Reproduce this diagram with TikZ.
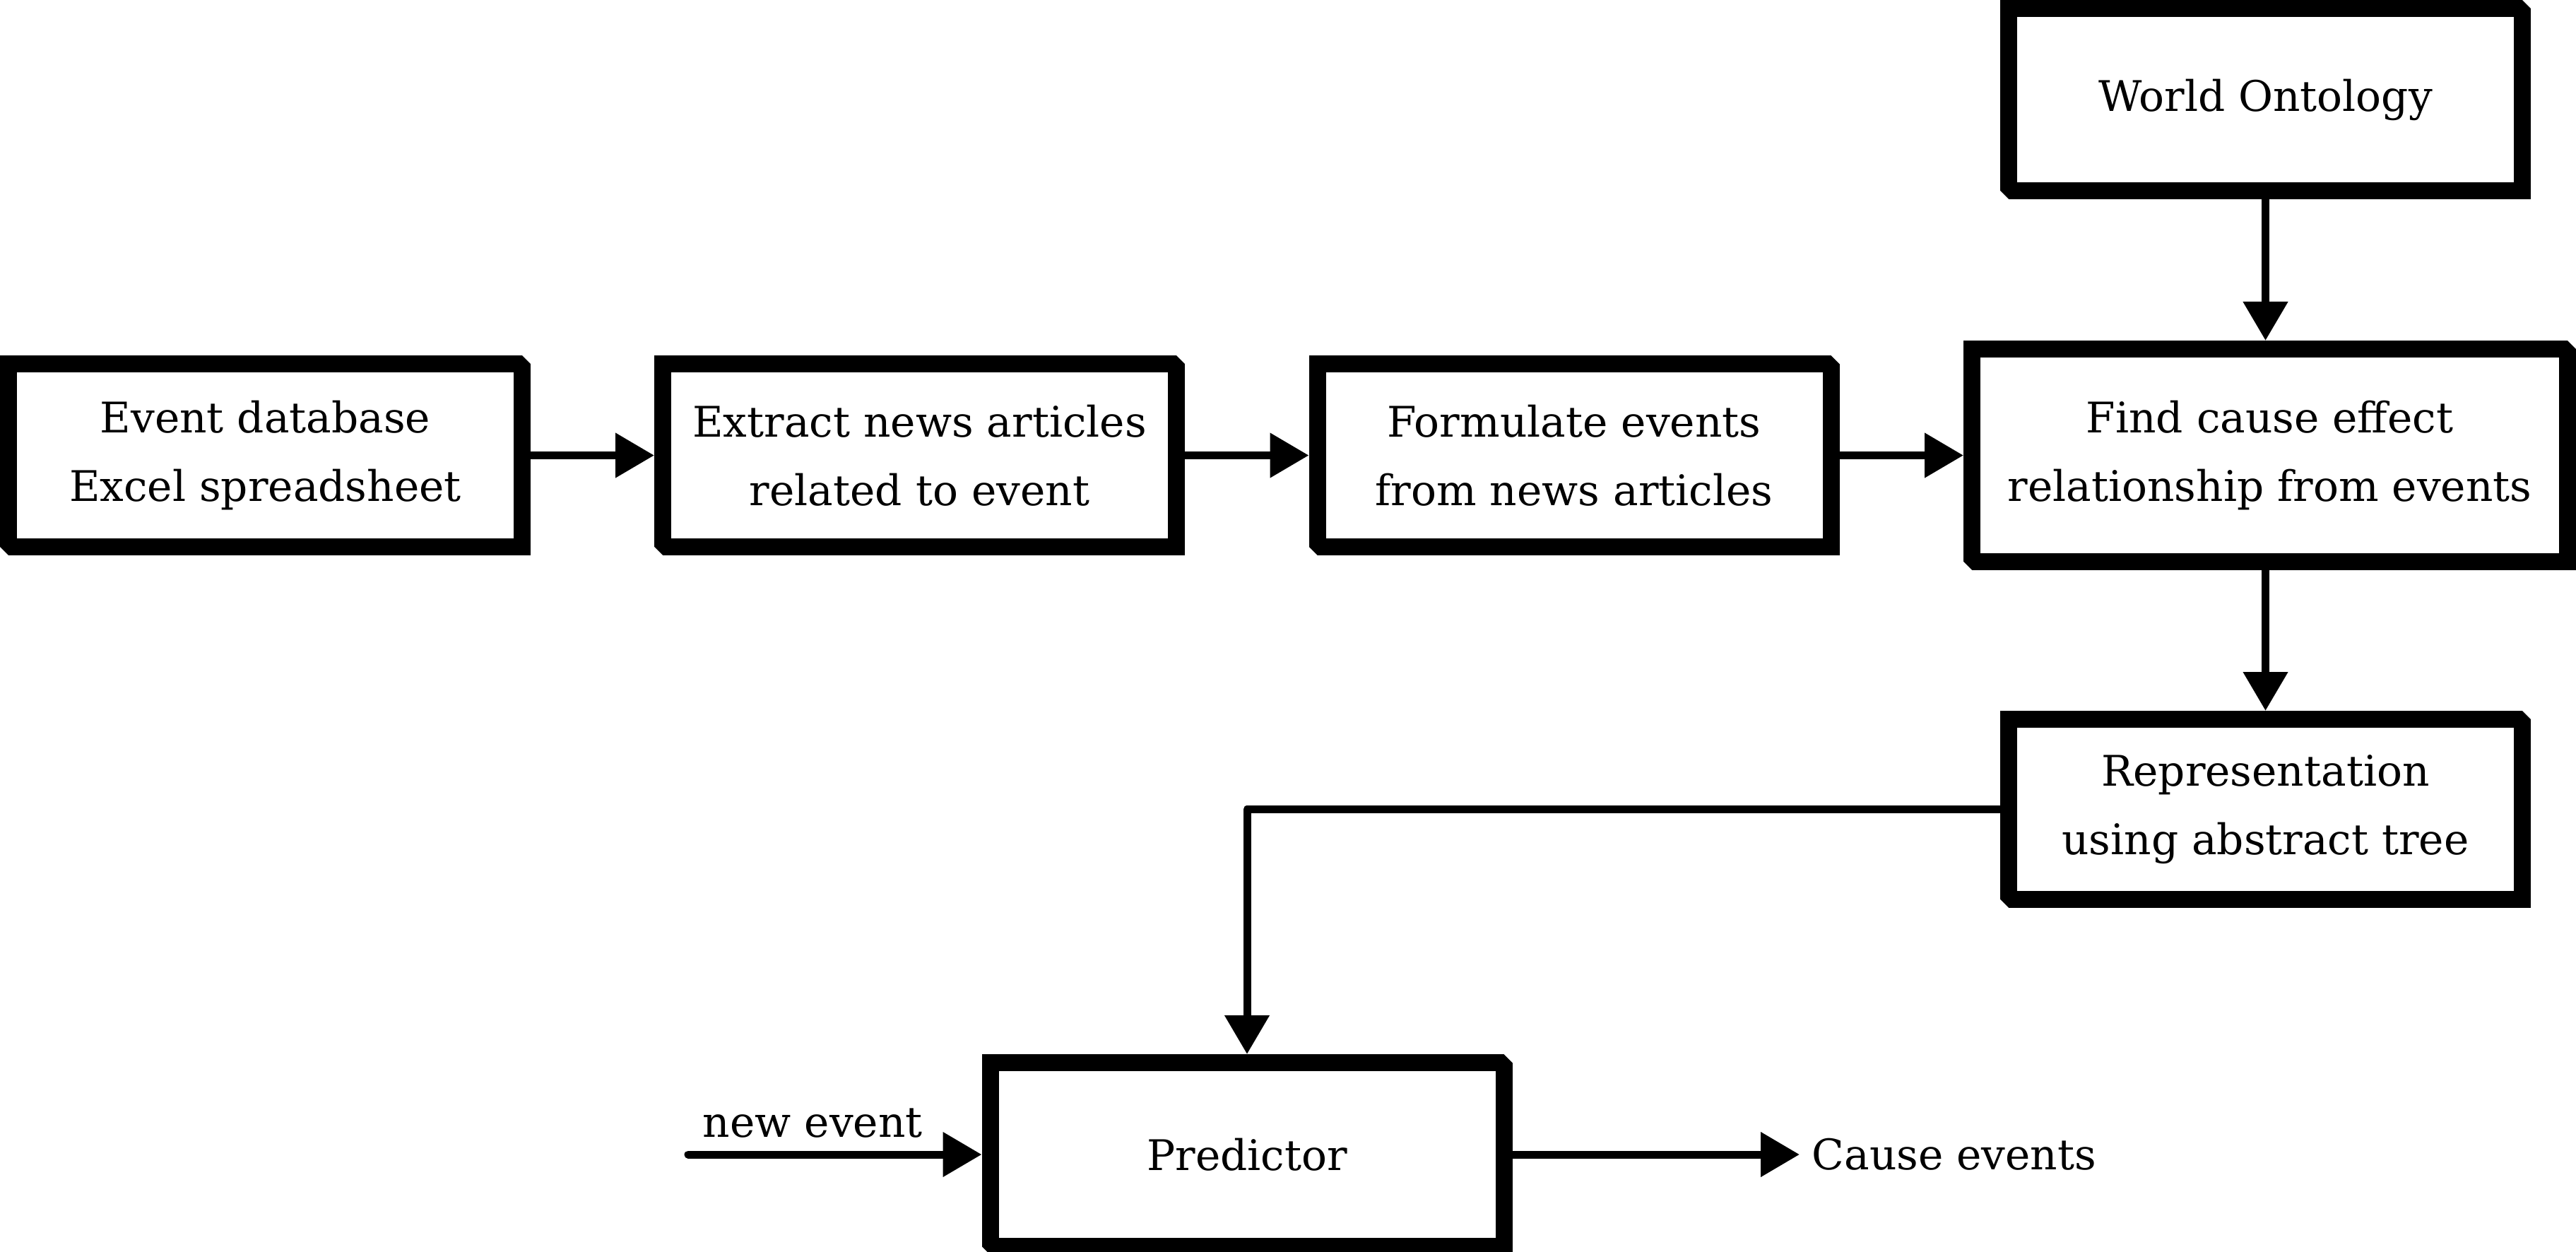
\documentclass[tikz,border=0pt]{standalone}
\usepackage{fontspec}
\setmainfont{DejaVu Serif}
\usepackage{tikz}
\usetikzlibrary{positioning,arrows.meta}

\begin{document}
\begin{tikzpicture}[
    font=\fontsize{17pt}{27.6pt}\selectfont,
    stage/.style={draw,line width=0.24cm,fill=white,align=center,minimum width=7.27cm,minimum height=2.59cm},
    flow/.style={line width=0.11cm,line join=round,-{Triangle[length=5.5mm,width=6.1mm]}},
    lbl/.style={inner sep=0pt}]
  \useasboundingbox (0,0) rectangle (36.46,17.71);
  % pipeline row
  \node[stage] (evdb) at (3.755,11.265) {Event database\\ Excel spreadsheet};
  \node[stage] (extr) at (13.015,11.265) {Extract news articles\\ related to event};
  \node[stage] (form) at (22.28,11.265) {Formulate events\\ from news articles};
  \node[stage,minimum width=8.43cm,minimum height=3.01cm] (rel) at (32.125,11.265) {Find cause effect\\ relationship from events};
  % ontology and representation
  \node[stage,minimum height=2.58cm] (world) at (32.065,16.30) {World Ontology};
  \node[stage,minimum height=2.55cm] (repr) at (32.065,6.255) {Representation\\ using abstract tree};
  % predictor with its input and output
  \node[stage,minimum height=2.6cm] (pred) at (17.65,1.37) {Predictor};
  \coordinate (nev) at (9.74,1.37);
  \node[lbl,anchor=base west] (nlab) at (9.94,1.62) {new event};
  \node[lbl,anchor=west,inner sep=1.7mm] (outc) at (25.47,1.37) {Cause events};
  % bevelled corners
  \foreach \n in {evdb,extr,form,rel,world,repr,pred} {
    \fill[white] ([shift={(-1.5mm,0.3mm)}]\n.north east) -- ([shift={(0.3mm,0.3mm)}]\n.north east) -- ([shift={(0.3mm,-1.5mm)}]\n.north east) -- cycle;
    \fill[white] ([shift={(1.5mm,-0.3mm)}]\n.south west) -- ([shift={(-0.3mm,-0.3mm)}]\n.south west) -- ([shift={(-0.3mm,1.5mm)}]\n.south west) -- cycle;
  }
  % connectors
  \draw[flow] (evdb) -- (extr);
  \draw[flow] (extr) -- (form);
  \draw[flow] (form) -- (rel);
  \draw[flow] (world.south) -- (world.south |- rel.north);
  \draw[flow] (repr.north |- rel.south) -- (repr.north);
  \draw[flow] (repr.west) -| (pred.north);
  \draw[flow,line cap=round] (nev) -- (pred.west);
  \draw[flow] (pred.east) -- (outc.west);
\end{tikzpicture}
\end{document}
